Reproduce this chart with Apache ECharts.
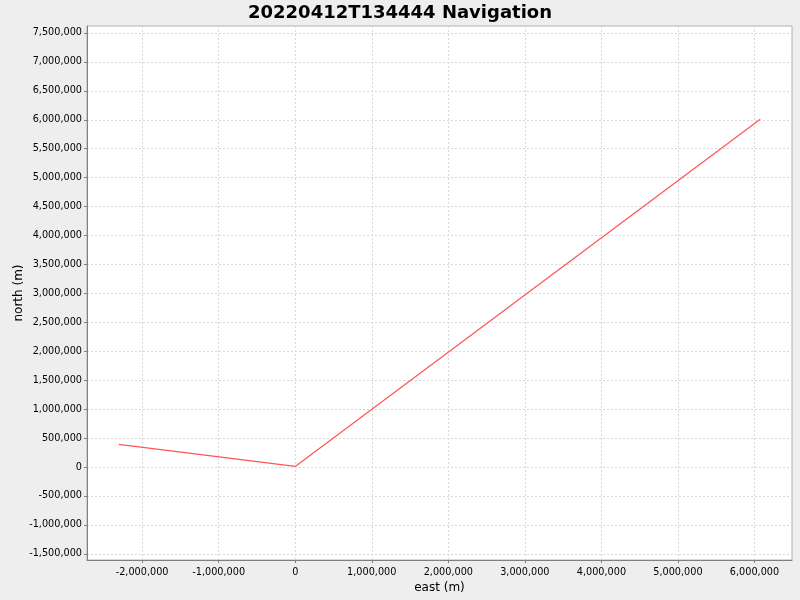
<!DOCTYPE html>
<html>
<head>
<meta charset="utf-8">
<script src="https://cdn.jsdelivr.net/npm/echarts@6/dist/echarts.min.js"></script>
<style>
  html, body { margin: 0; padding: 0; background: #eeeeee; }
  #chart { width: 800px; height: 600px; }
</style>
</head>
<body>
<div id="chart"></div>
<script>
// track points (metres)
const east = [-2305000, 0, 6075000];
const north = [392000, 10000, 6008000];

// tick labels
const xTicks = [-2000000, -1000000, 0, 1000000, 2000000, 3000000, 4000000, 5000000, 6000000];
const yTicks = [-1500000, -1000000, -500000, 0, 500000, 1000000, 1500000, 2000000, 2500000,
  3000000, 3500000, 4000000, 4500000, 5000000, 5500000, 6000000, 6500000, 7000000, 7500000];

const fmt = v => v.toLocaleString('en-US');
const font = 'DejaVu Sans';

const chart = echarts.init(document.getElementById('chart'));

let pts = [];
for (let i = 0; i < east.length; i++) {
  pts.push([east[i], north[i]]);
}

const gridLine = { show: true, lineStyle: { color: '#d8d8d8', type: [2, 2], width: 1 } };

chart.setOption({
  backgroundColor: '#eeeeee',
  animation: false,
  title: {
    text: '20220412T134444 Navigation',
    left: 'center',
    top: -1,
    textStyle: { fontFamily: font, fontWeight: 'bold', fontSize: 18, color: '#000' }
  },
  grid: {
    left: 87, right: 8, top: 26, bottom: 40,
    outerBoundsMode: 'none',
    containLabel: false,
    show: true, backgroundColor: '#fff', borderColor: '#b0b0b0', borderWidth: 1
  },
  xAxis: {
    type: 'value',
    min: -2720000, max: 6490000,
    name: 'east (m)',
    nameLocation: 'middle',
    nameGap: 20,
    nameTextStyle: { fontFamily: font, fontSize: 12, color: '#000' },
    axisLine: { show: true, onZero: false, lineStyle: { color: '#808080' } },
    axisTick: { show: true, length: 3, customValues: xTicks, lineStyle: { color: '#808080' } },
    axisLabel: { customValues: xTicks, formatter: fmt, fontFamily: font, fontSize: 9.7, color: '#000', margin: 7 },
    splitLine: gridLine
  },
  yAxis: {
    type: 'value',
    min: -1607000, max: 7620000,
    name: 'north (m)',
    nameLocation: 'middle',
    nameGap: 62,
    nameMoveOverlap: false,
    nameTextStyle: { fontFamily: font, fontSize: 12, color: '#000' },
    axisLine: { show: true, onZero: false, lineStyle: { color: '#808080' } },
    axisTick: { show: true, length: 3, customValues: yTicks, lineStyle: { color: '#808080' } },
    axisLabel: { customValues: yTicks, formatter: fmt, fontFamily: font, fontSize: 9.7, color: '#000', margin: 5 },
    splitLine: gridLine
  },
  series: [{
    type: 'line',
    data: pts,
    showSymbol: false,
    lineStyle: { color: '#ff5555', width: 1.2 },
    itemStyle: { color: '#ff5555' }
  }]
});
</script>
</body>
</html>
